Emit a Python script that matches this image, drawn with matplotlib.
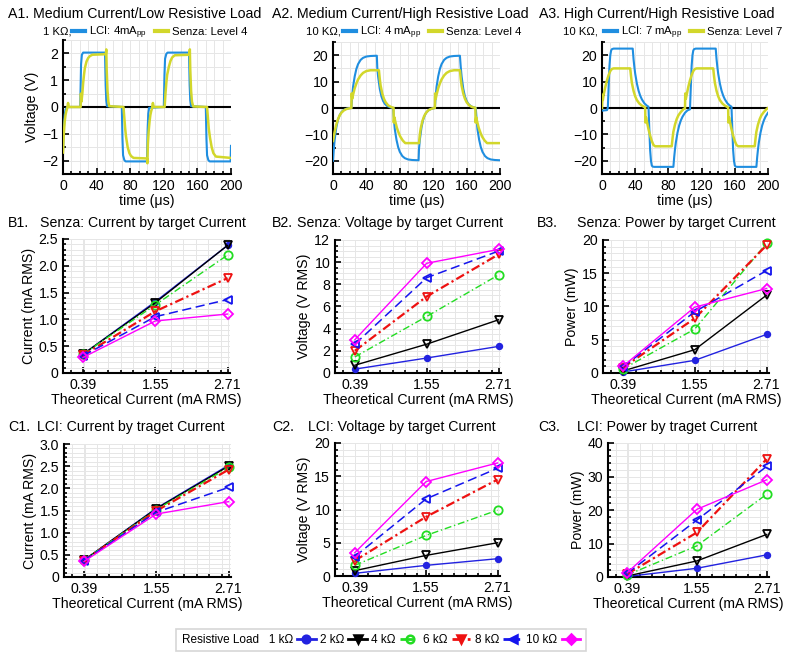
import matplotlib
matplotlib.use("Agg")
import matplotlib.pyplot as plt
from matplotlib.lines import Line2D
from matplotlib.ticker import MultipleLocator, AutoMinorLocator

plt.rcParams['font.family'] = ['Liberation Sans', 'DejaVu Sans']
plt.rcParams['mathtext.fontset'] = 'custom'
plt.rcParams['mathtext.rm'] = 'Liberation Sans'

# ---- A row: waveforms (time in us, voltage in V) ----
a1_lci_t = [0, 1, 2, 3, 5, 20.5, 21.5, 22.5, 24, 50, 50.8, 51.5, 52.5, 70,
            70.8, 71.5, 73, 74.5, 100, 100.8, 101.5, 102.5, 120,
            120.8, 121.5, 123, 124.5, 150, 150.8, 151.5, 152.5, 170,
            170.8, 171.5, 173, 174.5, 199.5, 200]
a1_lci_v = [-1.6, -0.8, -0.3, -0.1, 0, 0, 1.6, 1.95, 2.03, 2.03, 0.8, 0.25, 0.03, 0,
            -1.2, -1.8, -1.98, -2.03, -2.03, -0.8, -0.25, -0.03, 0,
            1.2, 1.8, 1.98, 2.03, 2.03, 0.8, 0.25, 0.03, 0,
            -1.2, -1.8, -1.98, -2.03, -2.03, -1.45]
a1_sen_t = [0, 1, 2, 3, 4, 5, 6, 7, 21,
            21.3, 22, 23, 24, 25, 26, 28, 30, 32, 35, 51,
            51.5, 52, 53, 54, 55, 72,
            73, 74, 75, 77, 79, 81, 84, 100,
            100.5, 101, 102, 103, 104, 105, 106, 107, 108, 121,
            122, 123, 124, 126, 128, 130, 133, 150.5,
            151, 151.5, 152.5, 153.5, 155, 171.5,
            172.5, 173.5, 175, 177, 179, 182, 200]
a1_sen_v = [-1.7, -1.0, -0.55, -0.3, -0.15, -0.05, 0.15, 0, 0,
            0.5, 0.2, 0.5, 0.9, 1.2, 1.45, 1.7, 1.83, 1.9, 1.95, 1.97,
            2.15, 1.4, 0.6, 0.2, 0.03, 0,
            -0.4, -0.8, -1.1, -1.5, -1.72, -1.83, -1.9, -1.92,
            -2.1, -1.4, -0.9, -0.55, -0.3, -0.15, -0.05, 0.15, 0, 0,
            0.5, 0.9, 1.2, 1.5, 1.72, 1.85, 1.93, 1.95,
            2.15, 1.4, 0.6, 0.2, 0.02, 0,
            -0.4, -0.8, -1.15, -1.5, -1.72, -1.85, -1.9]

a2_lci_t = [0, 1, 2, 3, 4, 6, 8, 10, 13, 16, 20, 22,
            23, 24, 26, 28, 30, 33, 36, 40, 45, 52.5,
            53, 54, 56, 58, 60, 62, 65, 68, 72,
            73, 74, 76, 78, 80, 83, 86, 90, 95, 102.5,
            103, 104, 106, 108, 110, 112, 115, 118, 122,
            123, 124, 126, 128, 130, 133, 136, 140, 145, 152,
            153, 154, 156, 158, 160, 162, 165, 168, 171,
            172, 173, 175, 177, 179, 182, 185, 189, 194, 200]
a2_lci_v = [-20, -15.5, -12, -9.5, -7.3, -4.4, -2.7, -1.6, -0.7, -0.3, -0.05, 0,
            4.5, 8, 12, 14.8, 16.6, 18.2, 19, 19.5, 19.7, 19.8,
            15.5, 12, 7.3, 4.4, 2.7, 1.6, 0.7, 0.3, 0,
            -4.5, -8, -12, -14.8, -16.6, -18.2, -19, -19.5, -19.7, -19.8,
            -15.5, -12, -7.3, -4.4, -2.7, -1.6, -0.7, -0.3, 0,
            4.5, 8, 12, 14.8, 16.6, 18.2, 19, 19.5, 19.7, 19.8,
            15.5, 12, 7.3, 4.4, 2.7, 1.6, 0.7, 0.3, 0,
            -4.5, -8, -12, -14.8, -16.6, -18.2, -19, -19.5, -19.7, -19.8]
a2_sen_t = [0, 2, 4, 6, 8, 10, 13, 16, 20, 22,
            22.3, 23, 24, 26, 28, 30, 33, 36, 40, 45, 55,
            56, 57, 59, 61, 63, 66, 70, 72.5,
            72.8, 73.5, 74.5, 76.5, 78.5, 80.5, 83.5, 86.5, 91, 103,
            104, 105, 107, 109, 111, 114, 117, 120, 122,
            122.3, 123, 124, 126, 128, 130, 133, 136, 140, 145, 152,
            153, 154, 156, 158, 160, 163, 167, 170.5,
            170.8, 171.5, 172.5, 174.5, 176.5, 178.5, 181.5, 184.5, 189, 200]
a2_sen_v = [-12.5, -9, -6.2, -4.2, -2.8, -1.8, -0.9, -0.4, -0.1, 0,
            5.5, 3.5, 5, 7.5, 9.3, 10.8, 12.3, 13.3, 14, 14.3, 14.3,
            11, 8.5, 5.5, 3.5, 2.2, 1.0, 0.3, 0.1,
            -5.5, -3.5, -5, -7.5, -9.3, -10.8, -12.3, -13.3, -13.3, -13.3,
            -10, -7.8, -5, -3.2, -2, -0.9, -0.4, -0.1, 0,
            5.5, 3.5, 5, 7.5, 9.3, 10.8, 12.3, 13.3, 14, 14.3, 14.3,
            11, 8.5, 5.5, 3.5, 2.2, 1.0, 0.3, 0.1,
            -5.5, -3.5, -5, -7.5, -9.3, -10.8, -12.3, -13.3, -13.3, -13.3]

a3_lci_t = [0, 6, 7, 8, 9, 10, 11, 12, 14, 37,
            38, 39, 40, 42, 44, 46, 48, 51, 54, 56,
            57, 58, 59, 60, 61, 63, 86,
            87, 88, 89, 91, 93, 95, 97, 100, 103, 106,
            107, 108, 109, 110, 111, 113, 137,
            138, 139, 140, 142, 144, 146, 148, 151, 154, 156,
            157, 158, 159, 160, 161, 163, 186,
            187, 188, 189, 191, 193, 195, 197, 200]
a3_lci_v = [-1.0, -0.8, 0, 8, 16, 20, 21.8, 22.3, 22.5, 22.5,
            18.5, 15.5, 13, 9.3, 6.6, 4.7, 3.3, 1.8, 0.9, 0.5,
            -8, -16, -20, -21.8, -22.2, -22.3, -22.3,
            -18.5, -15.5, -13, -9.3, -6.6, -4.7, -3.3, -1.8, -0.9, -0.5,
            8, 16, 20, 21.8, 22.3, 22.5, 22.5,
            18.5, 15.5, 13, 9.3, 6.6, 4.7, 3.3, 1.8, 0.9, 0.5,
            -8, -16, -20, -21.8, -22.2, -22.3, -22.3,
            -18.5, -15.5, -13, -9.3, -6.6, -4.7, -3.3, -1.8]
a3_sen_t = [0, 0.5, 1, 2, 4, 6, 8, 10, 12, 14, 34,
            35, 36, 38, 40, 42, 45, 48, 51, 52,
            52.3, 53, 54, 56, 58, 60, 62, 64, 84,
            85, 86, 88, 90, 92, 95, 98, 100,
            100.3, 101, 102, 104, 106, 108, 110, 112, 114, 134,
            135, 136, 138, 140, 142, 145, 148, 151, 152,
            152.3, 153, 154, 156, 158, 160, 162, 164, 184,
            185, 186, 188, 190, 192, 195, 198, 200]
a3_sen_v = [0, 5, 3, 5, 8, 10.5, 12.5, 14, 14.8, 15, 15,
            12, 9.5, 6.5, 4.4, 3.0, 1.7, 0.9, 0.4, 0.2,
            -5.5, -3.5, -5, -8, -10.5, -12.5, -14, -14.5, -14.5,
            -11.5, -9, -6.2, -4.2, -2.8, -1.5, -0.5, -0.1,
            5.5, 3.5, 5, 8, 10.5, 12.5, 14, 14.8, 15, 15,
            12, 9.5, 6.5, 4.4, 3.0, 1.7, 0.9, 0.4, 0.2,
            -5.5, -3.5, -5, -8, -10.5, -12.5, -14, -14.5, -14.5,
            -11.5, -9, -6.2, -4.2, -2.8, -1.5, -0.5, 0]

# ---- B / C rows: one row per resistive load, columns = theoretical current ----
theo_current = [0.39, 1.55, 2.71]
loads = ['1 kΩ', '2 kΩ', '4 kΩ', '6 kΩ', '8 kΩ', '10 kΩ']

senza_current = [[0.35, 1.33, 2.38], [0.35, 1.31, 2.38], [0.35, 1.27, 2.20],
                 [0.33, 1.15, 1.77], [0.32, 1.05, 1.37], [0.29, 0.97, 1.10]]
senza_voltage = [[0.35, 1.35, 2.4], [0.7, 2.6, 4.8], [1.45, 5.1, 8.85],
                 [2.0, 6.9, 10.7], [2.6, 8.6, 11.0], [3.0, 9.9, 11.15]]
senza_power = [[0.15, 1.9, 5.8], [0.3, 3.5, 11.7], [0.6, 6.6, 19.5],
               [0.8, 8.2, 19.2], [0.9, 9.2, 15.4], [1.0, 9.9, 12.7]]
lci_current = [[0.38, 1.55, 2.52], [0.38, 1.54, 2.50], [0.38, 1.52, 2.47],
               [0.37, 1.49, 2.42], [0.37, 1.46, 2.02], [0.35, 1.42, 1.70]]
lci_voltage = [[0.4, 1.6, 2.6], [0.8, 3.1, 5.0], [1.6, 6.1, 9.9],
               [2.3, 8.9, 14.5], [2.9, 11.6, 16.2], [3.5, 14.2, 17.0]]
lci_power = [[0.15, 2.6, 6.6], [0.3, 4.8, 12.7], [0.6, 9.3, 24.7],
             [0.9, 13.3, 35.2], [1.1, 17.0, 33.0], [1.3, 20.2, 29.0]]

# styles per load
colors = ['#2222e0', 'black', '#22dd22', '#ee1111', '#1515ee', '#ff00ff']
lstyles = ['-', '-', (0, (5, 2, 1, 2)), (0, (4, 1.5, 1, 1.5)), (0, (6, 3)), '-']
markers = ['o', 'v', 'o', 'v', '<', 'D']
mfcs = ['#2222e0', 'none', 'none', 'none', 'none', 'none']
lws = [1.0, 1.0, 1.0, 1.6, 1.1, 1.0]
msizes = [4, 6, 6, 6, 6, 5]

LCI_C = '#1f8ee0'
SEN_C = '#d2d72b'
W, H = 800, 658
fig = plt.figure(figsize=(8, 6.58), dpi=100)


def box(x0, y0, x1, y1):
    return [x0 / W, 1 - y1 / H, (x1 - x0) / W, (y1 - y0) / H]


def style(ax):
    for s in ['top', 'right']:
        ax.spines[s].set_visible(False)
    for s in ['left', 'bottom']:
        ax.spines[s].set_linewidth(1.5)
    ax.tick_params(direction='in', which='both', labelsize=10.2, length=4, width=1.2)
    ax.tick_params(which='minor', length=2.5)
    ax.grid(True, which='both', color='#e6e6e6', lw=0.7)
    ax.set_axisbelow(True)


def txt(x, y, s, size=10.2, ha='left'):
    fig.text(x / W, 1 - y / H, s, fontsize=size, ha=ha, va='center')


# ---- A row ----
a_panels = [
    (box(63, 40, 231, 174), a1_lci_t, a1_lci_v, a1_sen_t, a1_sen_v, 2.5, 1, 0.5,
     'A1. Medium Current/Low Resistive Load', 8, '1 KΩ,', 43, 72,
     'LCI: 4mA$_{\\mathregular{pp}}$', 'Senza: Level 4'),
    (box(333, 42, 500, 174), a2_lci_t, a2_lci_v, a2_sen_t, a2_sen_v, 25, 10, 5,
     'A2. Medium Current/High Resistive Load', 272, '10 KΩ,', 306, 343,
     'LCI: 4 mA$_{\\mathregular{pp}}$', 'Senza: Level 4'),
    (box(602, 42, 768, 174), a3_lci_t, a3_lci_v, a3_sen_t, a3_sen_v, 25, 10, 5,
     'A3. High Current/High Resistive Load', 539, '10 KΩ,', 563, 604,
     'LCI: 7 mA$_{\\mathregular{pp}}$', 'Senza: Level 7'),
]
for i, (pos, lt, lv, st, sv, ylim, ymaj, ymin, title, tx, load_txt, lx, legx, llab, slab) in enumerate(a_panels):
    ax = fig.add_axes(pos)
    style(ax)
    ax.axhline(0, color='black', lw=1.5, zorder=3)
    l1, = ax.plot(lt, lv, color=LCI_C, lw=1.5, zorder=4)
    l2, = ax.plot(st, sv, color=SEN_C, lw=1.8, zorder=5)
    ax.set_xlim(0, 200)
    ax.set_ylim(-ylim, ylim)
    ax.xaxis.set_major_locator(MultipleLocator(40))
    ax.xaxis.set_minor_locator(MultipleLocator(10))
    ax.yaxis.set_major_locator(MultipleLocator(ymaj))
    ax.yaxis.set_minor_locator(MultipleLocator(ymin))
    ax.set_xlabel('time (μs)', fontsize=10.2, labelpad=1)
    if i == 0:
        ax.set_ylabel('Voltage (V)', fontsize=10.2, labelpad=2)
    txt(tx, 14, title)
    txt(lx, 32, load_txt, size=8.2)
    ax.legend([l1, l2], [llab, slab], ncol=2, loc='center left',
              bbox_to_anchor=(legx / W, 1 - 33 / H), bbox_transform=fig.transFigure,
              frameon=False, fontsize=8.2, handlelength=1.1, handletextpad=0.4,
              columnspacing=0.7, borderpad=0, borderaxespad=0)
    for lh in ax.get_legend().get_lines():
        lh.set_linewidth(3)

# ---- B and C rows ----
bc_panels = [
    (box(63, 239, 230, 373), senza_current, 2.5, 0.5, 'Current (mA RMS)', 'B1.', 8,
     'Senza: Current by target Current', 40, 223),
    (box(335, 240, 501, 373), senza_voltage, 12, 2, 'Voltage (V RMS)', 'B2.', 272,
     'Senza: Voltage by target Current', 297, 223),
    (box(603, 240, 769, 373), senza_power, 20, 5, 'Power (mW)', 'B3.', 537,
     'Senza: Power by target Current', 577, 223),
    (box(64, 444, 231, 577), lci_current, 3.0, 0.5, 'Current (mA RMS)', 'C1.', 8,
     'LCI: Current by traget Current', 37, 427),
    (box(335, 443, 500, 576), lci_voltage, 20, 5, 'Voltage (V RMS)', 'C2.', 272,
     'LCI: Voltage by target Current', 308, 427),
    (box(608, 443, 769, 577), lci_power, 40, 10, 'Power (mW)', 'C3.', 538,
     'LCI: Power by traget Current', 577, 427),
]
for pos, data, ytop, ymaj, ylab, tag, tagx, title, tx, ty in bc_panels:
    ax = fig.add_axes(pos)
    style(ax)
    for k in range(len(loads)):
        ax.plot(theo_current, data[k], color=colors[k], ls=lstyles[k], lw=lws[k],
                marker=markers[k], ms=msizes[k], mfc=mfcs[k], mec=colors[k], mew=1.3,
                clip_on=False, zorder=3 + k)
    ax.set_xlim(0.07, 2.75)
    ax.set_ylim(0, ytop)
    ax.set_xticks(theo_current)
    ax.set_xticklabels(['%.2f' % v for v in theo_current])
    ax.xaxis.set_minor_locator(MultipleLocator(0.2))
    ax.yaxis.set_major_locator(MultipleLocator(ymaj))
    ax.yaxis.set_minor_locator(AutoMinorLocator(5 if ymaj != 2 else 4))
    if ytop == 2.5 or ytop == 3.0:
        ax.yaxis.set_major_formatter(lambda v, p: '0' if v == 0 else '%.1f' % v)
    ax.set_xlabel('Theoretical Current (mA RMS)', fontsize=10.2, labelpad=1)
    ax.set_ylabel(ylab, fontsize=10.2, labelpad=2)
    txt(tagx, ty, tag)
    txt(tx, ty, title)

# ---- bottom legend ----
handles = []
for k in range(len(loads)):
    handles.append(Line2D([], [], color=colors[k], ls=lstyles[k], lw=2,
                          marker=markers[k], ms=5.5, mfc=colors[k] if k != 2 else 'none',
                          mec=colors[k], mew=1.8))
labels = ['Resistive Load   ' + loads[0]] + loads[1:]
leg = fig.legend(handles, labels, ncol=6, loc='center', bbox_to_anchor=(381 / W, 1 - 640 / H),
                 markerfirst=False, fontsize=8.5, handlelength=1.6, handletextpad=0.35,
                 columnspacing=0.35, fancybox=False, edgecolor='#cccccc', borderpad=0.45)
leg.get_frame().set_linewidth(1.2)

fig.savefig('out.png', dpi=100)
